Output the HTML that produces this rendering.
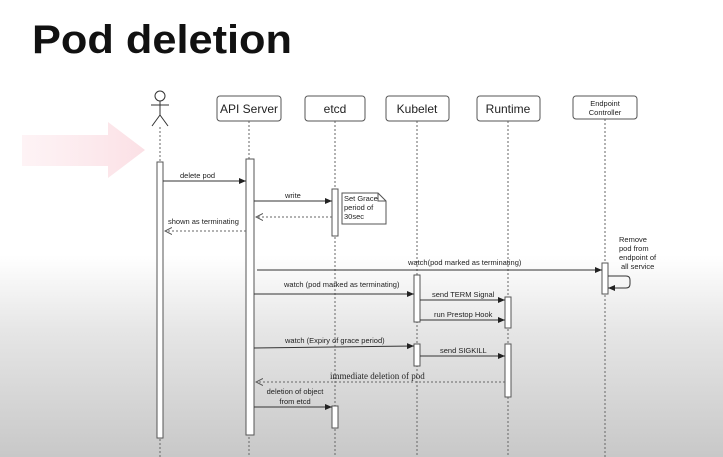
<!DOCTYPE html>
<html><head><meta charset="utf-8"><style>
html,body{margin:0;padding:0}
body{width:723px;height:457px;overflow:hidden;background:linear-gradient(to bottom,#fff 0px,#fff 255px,#e6e6e6 330px,#c8c8c8 457px);font-family:"Liberation Sans",sans-serif}
</style></head><body>
<svg width="723" height="457" viewBox="0 0 723 457" xmlns="http://www.w3.org/2000/svg" style="position:absolute;left:0;top:0">
<defs>
<marker id="a" markerWidth="8" markerHeight="8" refX="7" refY="4" orient="auto" markerUnits="userSpaceOnUse"><path d="M0,1 L7,4 L0,7 z" fill="#222"/></marker>
<marker id="o" markerWidth="8" markerHeight="8" refX="7" refY="4" orient="auto" markerUnits="userSpaceOnUse"><path d="M0,0.5 L7,4 L0,7.5" fill="none" stroke="#555" stroke-width="1"/></marker>
<linearGradient id="pk" x1="0" x2="1"><stop offset="0" stop-color="#fdeef1" stop-opacity="0.7"/><stop offset="1" stop-color="#fbe0e5"/></linearGradient>
</defs>
<text x="32" y="53" font-family="Liberation Sans" font-weight="bold" font-size="40" fill="#111" textLength="260" lengthAdjust="spacingAndGlyphs">Pod deletion</text>
<path d="M22,135 L108,135 L108,122 L145,150 L108,178 L108,166 L22,166 z" fill="url(#pk)"/>
<g stroke="#666" stroke-width="1" stroke-dasharray="2,2" fill="none">
<line x1="160" y1="127" x2="160" y2="457"/><line x1="249" y1="121" x2="249" y2="457"/>
<line x1="335" y1="121" x2="335" y2="457"/><line x1="417" y1="121" x2="417" y2="457"/>
<line x1="508" y1="121" x2="508" y2="457"/><line x1="605" y1="119" x2="605" y2="457"/>
</g>
<g stroke="#333" stroke-width="1" fill="none">
<circle cx="160" cy="96" r="5" fill="#fff"/><line x1="160" y1="101" x2="160" y2="115"/>
<line x1="151" y1="105" x2="169" y2="105"/><line x1="160" y1="115" x2="152" y2="126"/><line x1="160" y1="115" x2="168" y2="126"/>
</g>
<g stroke="#555" stroke-width="1" fill="#fff">
<rect x="217" y="96" width="64" height="25" rx="3"/><rect x="305" y="96" width="60" height="25" rx="3"/>
<rect x="386" y="96" width="63" height="25" rx="3"/><rect x="477" y="96" width="63" height="25" rx="3"/>
<rect x="573" y="96" width="64" height="23" rx="3"/>
</g>
<g font-size="12" fill="#222" text-anchor="middle">
<text x="249" y="113">API Server</text><text x="335" y="113">etcd</text>
<text x="417" y="113">Kubelet</text><text x="508" y="113">Runtime</text>
<text x="605" y="106" font-size="7.5">Endpoint</text><text x="605" y="115" font-size="7.5">Controller</text>
</g>
<g stroke="#555" stroke-width="1" fill="#fff">
<rect x="157" y="162" width="6" height="276"/><rect x="246" y="159" width="8" height="276"/>
<rect x="332" y="189" width="6" height="47"/><rect x="602" y="263" width="6" height="31"/>
<rect x="414" y="275" width="6" height="47"/><rect x="505" y="297" width="6" height="31"/>
<rect x="414" y="344" width="6" height="22"/><rect x="505" y="344" width="6" height="53"/>
<rect x="332" y="406" width="6" height="22"/>
<path d="M342,193 L378,193 L386,201 L386,224 L342,224 z"/><path d="M378,193 L378,201 L386,201" fill="none"/>
</g>
<g font-size="7.5" fill="#222">
<text x="344" y="201">Set Grace</text><text x="344" y="210">period of</text><text x="344" y="219">30sec</text>
<text x="619" y="242">Remove</text><text x="619" y="251">pod from</text><text x="619" y="260">endpoint of</text><text x="621" y="269">all service</text>
</g>
<g stroke="#333" stroke-width="1" fill="none" marker-end="url(#a)">
<line x1="163" y1="181" x2="246" y2="181"/><line x1="254" y1="201" x2="332" y2="201"/>
<line x1="257" y1="270" x2="602" y2="270"/><line x1="254" y1="294" x2="414" y2="294"/>
<line x1="420" y1="300" x2="505" y2="300"/><line x1="420" y1="320" x2="505" y2="320"/>
<line x1="254" y1="348" x2="414" y2="346"/><line x1="420" y1="356" x2="505" y2="356"/>
<line x1="254" y1="407" x2="332" y2="407"/>
<path d="M608,276 L626,276 Q630,276 630,280 L630,284 Q630,288 626,288 L608,288"/>
</g>
<g stroke="#666" stroke-width="1" fill="none" stroke-dasharray="2,2" marker-end="url(#o)">
<line x1="332" y1="217" x2="256" y2="217"/><line x1="246" y1="231" x2="165" y2="231"/>
<line x1="505" y1="382" x2="256" y2="382"/>
</g>
<g font-size="7.5" fill="#222">
<text x="180" y="178">delete pod</text><text x="285" y="198">write</text>
<text x="168" y="224">shown as terminating</text>
<text x="408" y="265">watch(pod marked as terminating)</text>
<text x="284" y="287">watch (pod marked as terminating)</text>
<text x="432" y="297">send TERM Signal</text><text x="434" y="317">run Prestop Hook</text>
<text x="285" y="343">watch (Expiry of grace period)</text><text x="440" y="353">send  SIGKILL</text>
<text x="330" y="379" font-family="Liberation Serif" font-size="9">immediate deletion of pod</text>
<text x="295" y="394" text-anchor="middle">deletion of object</text><text x="295" y="404" text-anchor="middle">from etcd</text>
</g>
</svg>
</body></html>
